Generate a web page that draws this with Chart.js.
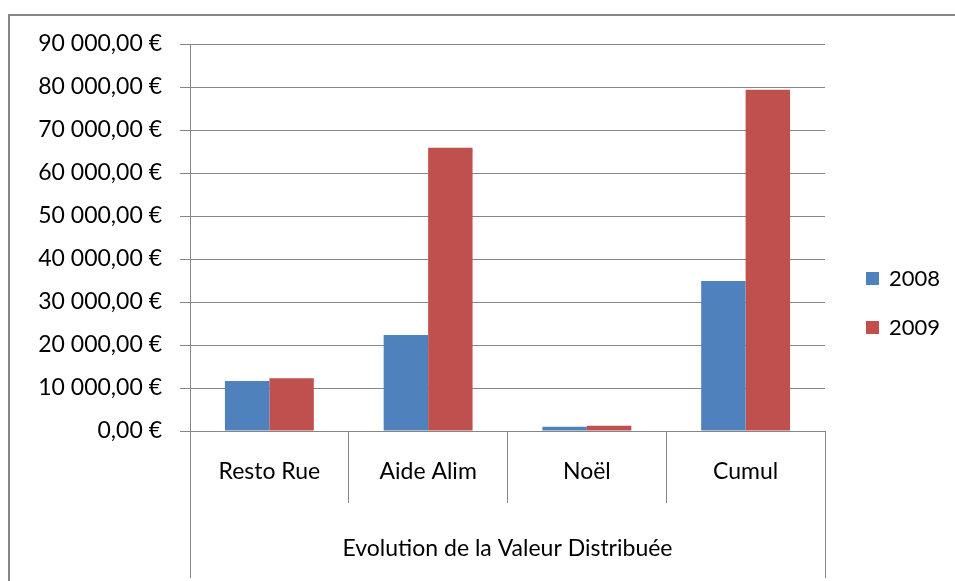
<!DOCTYPE html>
<html>
<head>
<meta charset="utf-8">
<script src="https://cdn.jsdelivr.net/npm/chart.js@4"></script>
<style>
  html, body { margin: 0; padding: 0; background: #fff; }
  #wrap { position: relative; width: 955px; height: 581px; }
</style>
</head>
<body>
<div id="wrap"><canvas id="valeurChart"></canvas></div>
<script>
const categories = ['Resto Rue', 'Aide Alim', 'Noël', 'Cumul'];
const valeurs2008 = [11600, 22300, 1000, 34900];
const valeurs2009 = [12250, 65900, 1230, 79380];
const seriesLabels = ['2008', '2009'];
const axisTitle = 'Evolution de la Valeur Distribuée';

const gridGray = '#868686';
const fontFamily = 'Lato, "Open Sans", sans-serif';

function formatEuro(v) {
    const parts = Math.round(v).toString().replace(/\B(?=(\d{3})+(?!\d))/g, ' ');
    return parts + ',00 €';
}

// bordure du cadre, lignes du second niveau de catégories, légende
const excelFrame = {
    id: 'excelFrame',
    beforeDraw(chart) {
        const ctx = chart.ctx;
        ctx.save();
        ctx.fillStyle = gridGray;
        ctx.fillRect(8, 14, 2, 581);
        ctx.fillRect(8, 14, 955, 2);
        ctx.restore();
    },
    afterDraw(chart) {
        const ctx = chart.ctx;
        const area = chart.chartArea;
        ctx.save();
        ctx.strokeStyle = gridGray;
        ctx.lineWidth = 1;
        ctx.beginPath();
        ctx.moveTo(Math.round(area.left) + 0.5, area.bottom);
        ctx.lineTo(Math.round(area.left) + 0.5, 578);
        ctx.moveTo(Math.round(area.right) + 0.5, area.bottom);
        ctx.lineTo(Math.round(area.right) + 0.5, 578);
        ctx.stroke();

        // légende
        ctx.font = '22px ' + fontFamily;
        ctx.textBaseline = 'middle';
        ctx.textAlign = 'left';
        chart.data.datasets.forEach((ds, i) => {
            const y = 278 + i * 49;
            ctx.fillStyle = ds.backgroundColor;
            ctx.fillRect(866, y - 6, 13, 13);
            ctx.fillStyle = '#000';
            ctx.fillText(ds.label, 889, y + 1);
        });
        ctx.restore();
    }
};

const ctx = document.getElementById('valeurChart').getContext('2d');
new Chart(ctx, {
    type: 'bar',
    data: {
        labels: categories,
        datasets: [{
            label: seriesLabels[0],
            data: valeurs2008,
            backgroundColor: '#4F81BD'
        }, {
            label: seriesLabels[1],
            data: valeurs2009,
            backgroundColor: '#C0504D'
        }]
    },
    options: {
        responsive: true,
        maintainAspectRatio: false,
        animation: false,
        layout: { padding: { top: 44, right: 130, left: 0, bottom: 0 } },
        datasets: {
            bar: { categoryPercentage: 0.56, barPercentage: 1.0 }
        },
        plugins: {
            legend: { display: false },
            tooltip: { enabled: false }
        },
        scales: {
            y: {
                min: 0,
                max: 90000,
                ticks: {
                    stepSize: 10000,
                    padding: 18,
                    color: '#000',
                    font: { family: fontFamily, size: 23 },
                    callback: (v) => formatEuro(v)
                },
                grid: { color: gridGray, tickLength: 10, lineWidth: 1 },
                border: { display: true, color: gridGray },
                afterFit(scale) { scale.width = 190; }
            },
            x: {
                offset: true,
                grid: {
                    offset: true,
                    drawOnChartArea: false,
                    color: gridGray,
                    tickLength: 72
                },
                border: { display: true, color: gridGray },
                ticks: {
                    padding: -45,
                    color: '#000',
                    font: { family: fontFamily, size: 23 }
                },
                title: {
                    display: true,
                    text: axisTitle,
                    color: '#000',
                    font: { family: fontFamily, size: 23 },
                    padding: { top: 0, bottom: 19 }
                },
                afterFit(scale) { scale.height = 150; }
            }
        }
    },
    plugins: [excelFrame]
});
</script>
</body>
</html>
